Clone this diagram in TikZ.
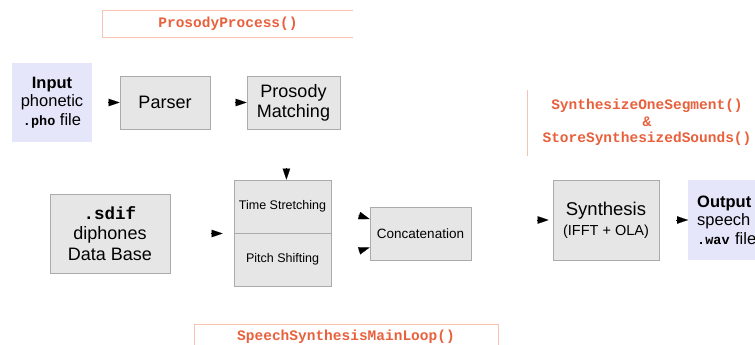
\documentclass[tikz,border=0pt]{standalone}
\usepackage{fontspec}
\setmainfont{Liberation Sans}
\setmonofont{Liberation Mono}
\usetikzlibrary{arrows.meta,calc}
\definecolor{boxfill}{HTML}{E6E6E6}
\definecolor{boxline}{HTML}{ABABAB}
\definecolor{iofill}{HTML}{E6E6FA}
\definecolor{fnred}{HTML}{E8603C}
\definecolor{fnline}{HTML}{F7C2B2}
\newcommand{\fsz}[2]{\fontsize{#1}{#2}\selectfont}
\newcommand{\codeword}[2]{{\ttfamily\bfseries\fontsize{#1}{#1}\selectfont #2}}
\tikzset{
  stage/.style={draw=boxline, fill=boxfill, line width=0.8pt, inner sep=0pt,
    align=center, font=\fsz{18}{20}},
  io/.style={fill=iofill, inner sep=0pt, font=\fsz{16.5}{18.5}},
  fnlabel/.style={text=fnred, font=\ttfamily\bfseries\fsz{14.5}{16.5}, align=center,
    inner sep=0pt},
  fnframe/.style={draw=fnline, line width=1pt},
  conn/.style={-{Triangle[length=11pt,width=7.5pt]}, line width=0.1pt, black}
}
\begin{document}
\begin{tikzpicture}[x=1pt,y=-1pt]
  \useasboundingbox[fill=white] (0,0) rectangle (755,345);

  % function frames
  \node[minimum width=250pt, minimum height=26pt, inner sep=0pt] (pp) at (228,24) {};
  \node[fnlabel] at (pp.center) {ProsodyProcess()};
  \draw[fnframe] (pp.north east) -- (pp.north west) -- (pp.south west) -- (pp.south east);

  \node[fnlabel] (sos) at (647,122.5) {SynthesizeOneSegment()\\\&\\StoreSynthesizedSounds()};
  \coordinate (sostop) at (527,90);
  \coordinate (sosbot) at (527,156);
  \draw[fnframe, line width=0.7pt] (sostop) -- (sosbot);

  \node[minimum width=303pt, minimum height=30pt, inner sep=0pt] (ml) at (346.5,340) {};
  \node[fnlabel] at (346,337) {SpeechSynthesisMainLoop()};
  \draw[fnframe] (ml.south west) -- (ml.north west) -- (ml.north east) -- (ml.south east);

  % input / output
  \node[io, minimum width=80pt, minimum height=79pt, align=center] (input) at (52,102.5)
    {\textbf{Input}\\phonetic\\\codeword{13.5}{.pho} file};
  \node[io, minimum width=82pt, minimum height=80pt, anchor=west, align=left,
        text width=73pt, inner xsep=9pt] (output) at (688,220)
    {\textbf{Output}\\speech\\\codeword{13.5}{.wav} file};

  % processing stages
  \node[stage, minimum width=90pt, minimum height=53pt] (parser) at (165,102.5) {Parser};
  \node[stage, minimum width=93pt, minimum height=53pt] (prosody) at (293.5,102.5) {Prosody\\Matching};
  \node[stage, minimum width=120pt, minimum height=79pt, font=\fsz{18}{20.5}] (sdif) at (110,233.5)
    {\codeword{17.5}{.sdif}\\diphones\\Data Base};
  \node[stage, minimum width=97pt, minimum height=53pt, font=\fsz{12.5}{14}] (ts) at (282.5,206.5) {Time Stretching};
  \node[stage, minimum width=97pt, minimum height=53pt, font=\fsz{12.5}{14}] (ps) at (282.5,259.5) {Pitch Shifting};
  \node[stage, minimum width=101pt, minimum height=53pt, font=\fsz{13.5}{15}] (concat) at (420.5,233.5) {Concatenation};
  \node[stage, minimum width=106pt, minimum height=80pt] (synth) at (606,220)
    {\fsz{18.5}{20}Synthesis\\\fsz{14.5}{20}(IFFT + OLA)};

  % connectors
  \draw[conn] ($(parser.west)!12pt!(input.east)$) -- (parser.west);
  \draw[conn] ($(prosody.west)!12pt!(parser.east)$) -- (prosody.west);
  \coordinate (tsin) at ($(ts.north west)!0.54!(ts.north east)$);
  \draw[conn] ($(tsin)!12pt!(prosody.south -| tsin)$) -- (tsin);
  \draw[conn] ($(ts.west |- sdif.east)!23pt!(sdif.east)$) -- ($(ts.west |- sdif.east)!11pt!(sdif.east)$);
  \coordinate (cin1) at ($(concat.west)+(0,-14.5)$);
  \coordinate (cin2) at ($(concat.west)+(0,14)$);
  \draw[conn] ($(cin1)!12pt!(ts.east)$) -- (cin1);
  \draw[conn] ($(cin2)!12pt!(ps.east)$) -- (cin2);
  \draw[conn] ($(synth.west)!16pt!(concat.east |- synth.west)$) -- ($(synth.west)!4pt!(concat.east |- synth.west)$);
  \draw[conn] ($(output.west)!12pt!(synth.east)$) -- (output.west);
\end{tikzpicture}
\end{document}
